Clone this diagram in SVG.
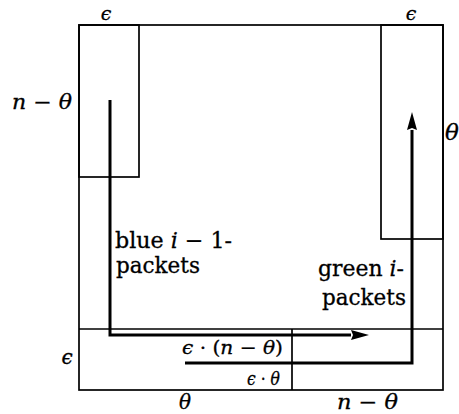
<svg xmlns="http://www.w3.org/2000/svg" width="459" height="414" viewBox="0 0 459 414">
<style>
.box{fill:none;stroke:#000;stroke-width:1.7}
.arr{fill:none;stroke:#000;stroke-width:3}
text{fill:#000;stroke:#000;stroke-width:0.3;font-family:'DejaVu Serif',serif}
.m{font-style:italic}
.u{font-style:normal}
</style>
<defs>
<marker id="ah" markerUnits="userSpaceOnUse" viewBox="0 0 18 10" refX="0" refY="5" markerWidth="18" markerHeight="10" orient="auto">
<path d="M0,0 L18,5 L0,10 L2,5 z" fill="#000"/>
</marker>
</defs>
<rect width="459" height="414" fill="#fff"/>
<g id="regions">
<rect id="outer" class="box" x="79" y="25" width="364" height="365"/>
<rect id="blue-block" class="box" x="79" y="25" width="60" height="152"/>
<rect id="green-block" class="box" x="381" y="25" width="62" height="214"/>
<line id="bottom-strip" class="box" x1="79" y1="329" x2="443" y2="329"/>
<line id="strip-divider" class="box" x1="292" y1="329" x2="292" y2="390"/>
</g>
<g id="connectors">
<path id="blue-path" class="arr" d="M110,100 V335 H351" marker-end="url(#ah)"/>
<path id="green-path" class="arr" d="M185,363 H412 V130" marker-end="url(#ah)"/>
</g>
<g id="labels">
<text class="m" x="106" y="20" font-size="19" text-anchor="middle">ϵ</text>
<text class="m" x="411" y="20" font-size="19" text-anchor="middle">ϵ</text>
<text class="m" x="12" y="109" font-size="20" textLength="60" lengthAdjust="spacingAndGlyphs">n <tspan class="u">−</tspan> θ</text>
<text class="m" x="452" y="140" font-size="23" text-anchor="middle">θ</text>
<text x="115" y="248" font-size="22" textLength="117" lengthAdjust="spacingAndGlyphs">blue <tspan class="m">i</tspan> − 1-</text>
<text x="116" y="273" font-size="22" textLength="84" lengthAdjust="spacingAndGlyphs">packets</text>
<text x="318" y="276" font-size="22" textLength="86" lengthAdjust="spacingAndGlyphs">green <tspan class="m">i</tspan>-</text>
<text x="322" y="305" font-size="22" textLength="84" lengthAdjust="spacingAndGlyphs">packets</text>
<text class="m" x="182" y="354" font-size="19" textLength="101" lengthAdjust="spacingAndGlyphs">ϵ <tspan class="u">· (</tspan>n <tspan class="u">−</tspan> θ<tspan class="u">)</tspan></text>
<text class="m" x="247" y="385" font-size="18" textLength="33" lengthAdjust="spacingAndGlyphs">ϵ <tspan class="u">·</tspan> θ</text>
<text class="m" x="67" y="364" font-size="20" text-anchor="middle">ϵ</text>
<text class="m" x="185" y="409" font-size="20" text-anchor="middle">θ</text>
<text class="m" x="337" y="409" font-size="20" textLength="61" lengthAdjust="spacingAndGlyphs">n <tspan class="u">−</tspan> θ</text>
</g>
</svg>
